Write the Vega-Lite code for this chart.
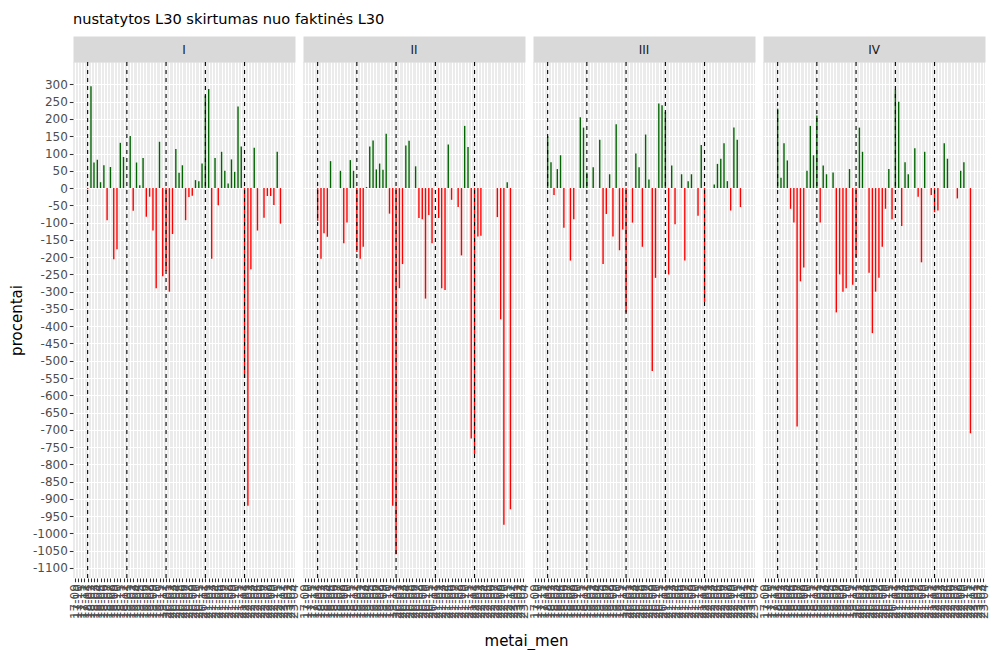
{
  "$schema": "https://vega.github.io/schema/vega-lite/v6.json",
  "padding": {"left": 9, "top": 12, "right": 0, "bottom": 2},
  "spacing": 8,
  "bounds": "flush",
  "title": {"text": "nustatytos L30 skirtumas nuo faktinės L30", "anchor": "start", "frame": "group", "font": "DejaVu Sans", "fontSize": 14.6, "fontWeight": "normal", "color": "black", "offset": 17},
  "datasets": {
    "metai": [{"metai_men": "2018-01-01"}, {"metai_men": "2019-01-01"}, {"metai_men": "2020-01-01"}, {"metai_men": "2021-01-01"}, {"metai_men": "2022-01-01"}],
    "d": [
      {"ketvirtis": "I", "metai_men": "2018-01-01", "procentai": -3},
      {"ketvirtis": "I", "metai_men": "2018-02-01", "procentai": 295},
      {"ketvirtis": "I", "metai_men": "2018-03-01", "procentai": 74},
      {"ketvirtis": "I", "metai_men": "2018-04-01", "procentai": 82},
      {"ketvirtis": "I", "metai_men": "2018-05-01", "procentai": 17},
      {"ketvirtis": "I", "metai_men": "2018-06-01", "procentai": 66},
      {"ketvirtis": "I", "metai_men": "2018-07-01", "procentai": -93},
      {"ketvirtis": "I", "metai_men": "2018-08-01", "procentai": 61},
      {"ketvirtis": "I", "metai_men": "2018-09-01", "procentai": -206},
      {"ketvirtis": "I", "metai_men": "2018-10-01", "procentai": -177},
      {"ketvirtis": "I", "metai_men": "2018-11-01", "procentai": 131},
      {"ketvirtis": "I", "metai_men": "2018-12-01", "procentai": 90},
      {"ketvirtis": "I", "metai_men": "2019-02-01", "procentai": 151},
      {"ketvirtis": "I", "metai_men": "2019-03-01", "procentai": -66},
      {"ketvirtis": "I", "metai_men": "2019-04-01", "procentai": 74},
      {"ketvirtis": "I", "metai_men": "2019-05-01", "procentai": 8},
      {"ketvirtis": "I", "metai_men": "2019-06-01", "procentai": 87},
      {"ketvirtis": "I", "metai_men": "2019-07-01", "procentai": -83},
      {"ketvirtis": "I", "metai_men": "2019-08-01", "procentai": -25},
      {"ketvirtis": "I", "metai_men": "2019-09-01", "procentai": -123},
      {"ketvirtis": "I", "metai_men": "2019-10-01", "procentai": -290},
      {"ketvirtis": "I", "metai_men": "2019-11-01", "procentai": 134},
      {"ketvirtis": "I", "metai_men": "2019-12-01", "procentai": -255},
      {"ketvirtis": "I", "metai_men": "2020-01-01", "procentai": -240},
      {"ketvirtis": "I", "metai_men": "2020-02-01", "procentai": -300},
      {"ketvirtis": "I", "metai_men": "2020-03-01", "procentai": -133},
      {"ketvirtis": "I", "metai_men": "2020-04-01", "procentai": 113},
      {"ketvirtis": "I", "metai_men": "2020-05-01", "procentai": 44},
      {"ketvirtis": "I", "metai_men": "2020-06-01", "procentai": 66},
      {"ketvirtis": "I", "metai_men": "2020-07-01", "procentai": -93},
      {"ketvirtis": "I", "metai_men": "2020-08-01", "procentai": -26},
      {"ketvirtis": "I", "metai_men": "2020-09-01", "procentai": -22},
      {"ketvirtis": "I", "metai_men": "2020-10-01", "procentai": 23},
      {"ketvirtis": "I", "metai_men": "2020-11-01", "procentai": 20},
      {"ketvirtis": "I", "metai_men": "2020-12-01", "procentai": 71},
      {"ketvirtis": "I", "metai_men": "2021-01-01", "procentai": 268},
      {"ketvirtis": "I", "metai_men": "2021-02-01", "procentai": 287},
      {"ketvirtis": "I", "metai_men": "2021-03-01", "procentai": -205},
      {"ketvirtis": "I", "metai_men": "2021-04-01", "procentai": 87},
      {"ketvirtis": "I", "metai_men": "2021-05-01", "procentai": -50},
      {"ketvirtis": "I", "metai_men": "2021-06-01", "procentai": 105},
      {"ketvirtis": "I", "metai_men": "2021-07-01", "procentai": 50},
      {"ketvirtis": "I", "metai_men": "2021-08-01", "procentai": 13},
      {"ketvirtis": "I", "metai_men": "2021-09-01", "procentai": 83},
      {"ketvirtis": "I", "metai_men": "2021-10-01", "procentai": 47},
      {"ketvirtis": "I", "metai_men": "2021-11-01", "procentai": 236},
      {"ketvirtis": "I", "metai_men": "2021-12-01", "procentai": 120},
      {"ketvirtis": "I", "metai_men": "2022-01-01", "procentai": -550},
      {"ketvirtis": "I", "metai_men": "2022-02-01", "procentai": -920},
      {"ketvirtis": "I", "metai_men": "2022-03-01", "procentai": -235},
      {"ketvirtis": "I", "metai_men": "2022-04-01", "procentai": 117},
      {"ketvirtis": "I", "metai_men": "2022-05-01", "procentai": -123},
      {"ketvirtis": "I", "metai_men": "2022-07-01", "procentai": -86},
      {"ketvirtis": "I", "metai_men": "2022-08-01", "procentai": -23},
      {"ketvirtis": "I", "metai_men": "2022-09-01", "procentai": -23},
      {"ketvirtis": "I", "metai_men": "2022-10-01", "procentai": -49},
      {"ketvirtis": "I", "metai_men": "2022-11-01", "procentai": 105},
      {"ketvirtis": "I", "metai_men": "2022-12-01", "procentai": -103},

      {"ketvirtis": "II", "metai_men": "2018-01-01", "procentai": -95},
      {"ketvirtis": "II", "metai_men": "2018-02-01", "procentai": -205},
      {"ketvirtis": "II", "metai_men": "2018-03-01", "procentai": -131},
      {"ketvirtis": "II", "metai_men": "2018-04-01", "procentai": -141},
      {"ketvirtis": "II", "metai_men": "2018-05-01", "procentai": 78},
      {"ketvirtis": "II", "metai_men": "2018-08-01", "procentai": 50},
      {"ketvirtis": "II", "metai_men": "2018-09-01", "procentai": -160},
      {"ketvirtis": "II", "metai_men": "2018-10-01", "procentai": -100},
      {"ketvirtis": "II", "metai_men": "2018-11-01", "procentai": 81},
      {"ketvirtis": "II", "metai_men": "2018-12-01", "procentai": 50},
      {"ketvirtis": "II", "metai_men": "2019-01-01", "procentai": -185},
      {"ketvirtis": "II", "metai_men": "2019-02-01", "procentai": -205},
      {"ketvirtis": "II", "metai_men": "2019-03-01", "procentai": -170},
      {"ketvirtis": "II", "metai_men": "2019-04-01", "procentai": 3},
      {"ketvirtis": "II", "metai_men": "2019-05-01", "procentai": 120},
      {"ketvirtis": "II", "metai_men": "2019-06-01", "procentai": 138},
      {"ketvirtis": "II", "metai_men": "2019-07-01", "procentai": 54},
      {"ketvirtis": "II", "metai_men": "2019-08-01", "procentai": 71},
      {"ketvirtis": "II", "metai_men": "2019-09-01", "procentai": 53},
      {"ketvirtis": "II", "metai_men": "2019-10-01", "procentai": 157},
      {"ketvirtis": "II", "metai_men": "2019-11-01", "procentai": -74},
      {"ketvirtis": "II", "metai_men": "2019-12-01", "procentai": -920},
      {"ketvirtis": "II", "metai_men": "2020-01-01", "procentai": -1060},
      {"ketvirtis": "II", "metai_men": "2020-02-01", "procentai": -290},
      {"ketvirtis": "II", "metai_men": "2020-03-01", "procentai": -220},
      {"ketvirtis": "II", "metai_men": "2020-04-01", "procentai": 123},
      {"ketvirtis": "II", "metai_men": "2020-05-01", "procentai": 137},
      {"ketvirtis": "II", "metai_men": "2020-07-01", "procentai": 63},
      {"ketvirtis": "II", "metai_men": "2020-08-01", "procentai": -87},
      {"ketvirtis": "II", "metai_men": "2020-09-01", "procentai": -90},
      {"ketvirtis": "II", "metai_men": "2020-10-01", "procentai": -320},
      {"ketvirtis": "II", "metai_men": "2020-11-01", "procentai": -78},
      {"ketvirtis": "II", "metai_men": "2020-12-01", "procentai": -160},
      {"ketvirtis": "II", "metai_men": "2021-02-01", "procentai": -87},
      {"ketvirtis": "II", "metai_men": "2021-03-01", "procentai": -290},
      {"ketvirtis": "II", "metai_men": "2021-04-01", "procentai": -295},
      {"ketvirtis": "II", "metai_men": "2021-05-01", "procentai": 126},
      {"ketvirtis": "II", "metai_men": "2021-06-01", "procentai": -34},
      {"ketvirtis": "II", "metai_men": "2021-08-01", "procentai": -55},
      {"ketvirtis": "II", "metai_men": "2021-09-01", "procentai": -195},
      {"ketvirtis": "II", "metai_men": "2021-10-01", "procentai": 180},
      {"ketvirtis": "II", "metai_men": "2021-11-01", "procentai": 119},
      {"ketvirtis": "II", "metai_men": "2021-12-01", "procentai": -725},
      {"ketvirtis": "II", "metai_men": "2022-01-01", "procentai": -770},
      {"ketvirtis": "II", "metai_men": "2022-02-01", "procentai": -140},
      {"ketvirtis": "II", "metai_men": "2022-03-01", "procentai": -138},
      {"ketvirtis": "II", "metai_men": "2022-08-01", "procentai": -84},
      {"ketvirtis": "II", "metai_men": "2022-09-01", "procentai": -380},
      {"ketvirtis": "II", "metai_men": "2022-10-01", "procentai": -975},
      {"ketvirtis": "II", "metai_men": "2022-11-01", "procentai": 17},
      {"ketvirtis": "II", "metai_men": "2022-12-01", "procentai": -930},

      {"ketvirtis": "III", "metai_men": "2018-01-01", "procentai": 150},
      {"ketvirtis": "III", "metai_men": "2018-02-01", "procentai": 75},
      {"ketvirtis": "III", "metai_men": "2018-03-01", "procentai": -20},
      {"ketvirtis": "III", "metai_men": "2018-04-01", "procentai": 55},
      {"ketvirtis": "III", "metai_men": "2018-05-01", "procentai": 95},
      {"ketvirtis": "III", "metai_men": "2018-06-01", "procentai": -115},
      {"ketvirtis": "III", "metai_men": "2018-08-01", "procentai": -210},
      {"ketvirtis": "III", "metai_men": "2018-09-01", "procentai": -90},
      {"ketvirtis": "III", "metai_men": "2018-11-01", "procentai": 205},
      {"ketvirtis": "III", "metai_men": "2018-12-01", "procentai": 175},
      {"ketvirtis": "III", "metai_men": "2019-01-01", "procentai": 45},
      {"ketvirtis": "III", "metai_men": "2019-03-01", "procentai": 60},
      {"ketvirtis": "III", "metai_men": "2019-05-01", "procentai": 140},
      {"ketvirtis": "III", "metai_men": "2019-06-01", "procentai": -220},
      {"ketvirtis": "III", "metai_men": "2019-07-01", "procentai": -75},
      {"ketvirtis": "III", "metai_men": "2019-08-01", "procentai": 40},
      {"ketvirtis": "III", "metai_men": "2019-09-01", "procentai": -140},
      {"ketvirtis": "III", "metai_men": "2019-10-01", "procentai": 185},
      {"ketvirtis": "III", "metai_men": "2019-11-01", "procentai": -180},
      {"ketvirtis": "III", "metai_men": "2019-12-01", "procentai": -120},
      {"ketvirtis": "III", "metai_men": "2020-01-01", "procentai": -360},
      {"ketvirtis": "III", "metai_men": "2020-03-01", "procentai": -100},
      {"ketvirtis": "III", "metai_men": "2020-04-01", "procentai": 100},
      {"ketvirtis": "III", "metai_men": "2020-05-01", "procentai": 60},
      {"ketvirtis": "III", "metai_men": "2020-06-01", "procentai": -170},
      {"ketvirtis": "III", "metai_men": "2020-07-01", "procentai": 155},
      {"ketvirtis": "III", "metai_men": "2020-08-01", "procentai": 25},
      {"ketvirtis": "III", "metai_men": "2020-09-01", "procentai": -530},
      {"ketvirtis": "III", "metai_men": "2020-10-01", "procentai": -260},
      {"ketvirtis": "III", "metai_men": "2020-11-01", "procentai": 245},
      {"ketvirtis": "III", "metai_men": "2020-12-01", "procentai": 240},
      {"ketvirtis": "III", "metai_men": "2021-01-01", "procentai": 220},
      {"ketvirtis": "III", "metai_men": "2021-02-01", "procentai": -250},
      {"ketvirtis": "III", "metai_men": "2021-03-01", "procentai": 65},
      {"ketvirtis": "III", "metai_men": "2021-04-01", "procentai": -105},
      {"ketvirtis": "III", "metai_men": "2021-06-01", "procentai": 40},
      {"ketvirtis": "III", "metai_men": "2021-07-01", "procentai": -210},
      {"ketvirtis": "III", "metai_men": "2021-08-01", "procentai": 20},
      {"ketvirtis": "III", "metai_men": "2021-09-01", "procentai": 40},
      {"ketvirtis": "III", "metai_men": "2021-11-01", "procentai": -80},
      {"ketvirtis": "III", "metai_men": "2021-12-01", "procentai": 125},
      {"ketvirtis": "III", "metai_men": "2022-01-01", "procentai": -330},
      {"ketvirtis": "III", "metai_men": "2022-04-01", "procentai": 10},
      {"ketvirtis": "III", "metai_men": "2022-05-01", "procentai": 70},
      {"ketvirtis": "III", "metai_men": "2022-06-01", "procentai": 85},
      {"ketvirtis": "III", "metai_men": "2022-07-01", "procentai": 130},
      {"ketvirtis": "III", "metai_men": "2022-08-01", "procentai": 20},
      {"ketvirtis": "III", "metai_men": "2022-09-01", "procentai": -65},
      {"ketvirtis": "III", "metai_men": "2022-10-01", "procentai": 175},
      {"ketvirtis": "III", "metai_men": "2022-11-01", "procentai": 140},
      {"ketvirtis": "III", "metai_men": "2022-12-01", "procentai": -55},

      {"ketvirtis": "IV", "metai_men": "2018-01-01", "procentai": 230},
      {"ketvirtis": "IV", "metai_men": "2018-02-01", "procentai": 30},
      {"ketvirtis": "IV", "metai_men": "2018-03-01", "procentai": 130},
      {"ketvirtis": "IV", "metai_men": "2018-04-01", "procentai": 80},
      {"ketvirtis": "IV", "metai_men": "2018-05-01", "procentai": -60},
      {"ketvirtis": "IV", "metai_men": "2018-06-01", "procentai": -100},
      {"ketvirtis": "IV", "metai_men": "2018-07-01", "procentai": -690},
      {"ketvirtis": "IV", "metai_men": "2018-08-01", "procentai": -270},
      {"ketvirtis": "IV", "metai_men": "2018-09-01", "procentai": -230},
      {"ketvirtis": "IV", "metai_men": "2018-10-01", "procentai": 50},
      {"ketvirtis": "IV", "metai_men": "2018-11-01", "procentai": 180},
      {"ketvirtis": "IV", "metai_men": "2018-12-01", "procentai": 95},
      {"ketvirtis": "IV", "metai_men": "2019-01-01", "procentai": 210},
      {"ketvirtis": "IV", "metai_men": "2019-02-01", "procentai": -100},
      {"ketvirtis": "IV", "metai_men": "2019-03-01", "procentai": 65},
      {"ketvirtis": "IV", "metai_men": "2019-04-01", "procentai": 40},
      {"ketvirtis": "IV", "metai_men": "2019-06-01", "procentai": 45},
      {"ketvirtis": "IV", "metai_men": "2019-07-01", "procentai": -360},
      {"ketvirtis": "IV", "metai_men": "2019-08-01", "procentai": -250},
      {"ketvirtis": "IV", "metai_men": "2019-09-01", "procentai": -300},
      {"ketvirtis": "IV", "metai_men": "2019-10-01", "procentai": -290},
      {"ketvirtis": "IV", "metai_men": "2019-11-01", "procentai": 55},
      {"ketvirtis": "IV", "metai_men": "2019-12-01", "procentai": -280},
      {"ketvirtis": "IV", "metai_men": "2020-01-01", "procentai": -200},
      {"ketvirtis": "IV", "metai_men": "2020-02-01", "procentai": 175},
      {"ketvirtis": "IV", "metai_men": "2020-03-01", "procentai": 105},
      {"ketvirtis": "IV", "metai_men": "2020-05-01", "procentai": -245},
      {"ketvirtis": "IV", "metai_men": "2020-06-01", "procentai": -420},
      {"ketvirtis": "IV", "metai_men": "2020-07-01", "procentai": -300},
      {"ketvirtis": "IV", "metai_men": "2020-08-01", "procentai": -260},
      {"ketvirtis": "IV", "metai_men": "2020-09-01", "procentai": -170},
      {"ketvirtis": "IV", "metai_men": "2020-10-01", "procentai": -60},
      {"ketvirtis": "IV", "metai_men": "2020-11-01", "procentai": 55},
      {"ketvirtis": "IV", "metai_men": "2020-12-01", "procentai": -90},
      {"ketvirtis": "IV", "metai_men": "2021-01-01", "procentai": 285},
      {"ketvirtis": "IV", "metai_men": "2021-02-01", "procentai": 250},
      {"ketvirtis": "IV", "metai_men": "2021-03-01", "procentai": -110},
      {"ketvirtis": "IV", "metai_men": "2021-04-01", "procentai": 75},
      {"ketvirtis": "IV", "metai_men": "2021-05-01", "procentai": 40},
      {"ketvirtis": "IV", "metai_men": "2021-07-01", "procentai": 115},
      {"ketvirtis": "IV", "metai_men": "2021-08-01", "procentai": -25},
      {"ketvirtis": "IV", "metai_men": "2021-09-01", "procentai": -215},
      {"ketvirtis": "IV", "metai_men": "2021-10-01", "procentai": 105},
      {"ketvirtis": "IV", "metai_men": "2021-12-01", "procentai": -20},
      {"ketvirtis": "IV", "metai_men": "2022-01-01", "procentai": -70},
      {"ketvirtis": "IV", "metai_men": "2022-02-01", "procentai": -65},
      {"ketvirtis": "IV", "metai_men": "2022-04-01", "procentai": 130},
      {"ketvirtis": "IV", "metai_men": "2022-05-01", "procentai": 85},
      {"ketvirtis": "IV", "metai_men": "2022-08-01", "procentai": -30},
      {"ketvirtis": "IV", "metai_men": "2022-09-01", "procentai": 50},
      {"ketvirtis": "IV", "metai_men": "2022-10-01", "procentai": 75},
      {"ketvirtis": "IV", "metai_men": "2022-12-01", "procentai": -710}
    ]
  },
  "hconcat": [
    {
      "width": 222, "height": 516,
      "title": {"text": "I", "fontSize": 12, "color": "#1A1A1A", "fontWeight": "normal", "anchor": "middle", "baseline": "middle", "offset": -13},
      "layer": [
        {
          "data": {"name": "d"}, "transform": [{"filter": "datum.ketvirtis == 'I'"}],
          "mark": {"type": "bar", "size": 1.4},
          "encoding": {
            "x": {"field": "metai_men", "type": "temporal", "scale": {"type": "utc", "nice": false, "domain": [{"year": 2017, "month": 10, "date": 3, "utc": true}, {"year": 2023, "month": 2, "date": 28, "utc": true}]}, "axis": {"orient": "bottom", "format": "%y-%m", "tickCount": {"interval": "month", "step": 1}, "labelAngle": 270, "labelOverlap": false, "labelBound": false, "labelFlush": false, "title": null}},
            "y": {"field": "procentai", "type": "quantitative", "scale": {"domain": [-1129, 365], "nice": false, "zero": false}, "axis": {"orient": "left", "values": [-1100, -1050, -1000, -950, -900, -850, -800, -750, -700, -650, -600, -550, -500, -450, -400, -350, -300, -250, -200, -150, -100, -50, 0, 50, 100, 150, 200, 250, 300], "labelExpr": "'' + datum.value", "title": "procentai"}},
            "color": {"condition": {"test": "datum.procentai > 0", "value": "#006400"}, "value": "#FF0000"}
          }
        },
        {
          "data": {"name": "d"}, "transform": [{"filter": "datum.ketvirtis == 'I'"}],
          "mark": {"type": "point", "opacity": 0},
          "encoding": {
            "x": {"field": "metai_men", "type": "temporal", "axis": {"orient": "top", "tickCount": {"interval": "day", "step": 15}, "labels": false, "ticks": false, "domain": true, "domainColor": "#D9D9D9", "domainWidth": 26, "domainCap": "butt", "offset": 13, "title": null, "gridWidth": 0.53}},
            "y": {"field": "procentai", "type": "quantitative", "axis": {"orient": "right", "values": [-1125, -1075, -1025, -975, -925, -875, -825, -775, -725, -675, -625, -575, -525, -475, -425, -375, -325, -275, -225, -175, -125, -75, -25, 25, 75, 125, 175, 225, 275, 325], "labels": false, "ticks": false, "domain": false, "title": null, "gridWidth": 0.53, "minExtent": 0, "maxExtent": 0}}
          }
        },
        {
          "data": {"name": "metai"},
          "mark": {"type": "rule", "color": "black", "strokeWidth": 1.1, "strokeDash": [4, 4]},
          "encoding": {"x": {"field": "metai_men", "type": "temporal", "axis": null}}
        }
      ]
    },
    {
      "width": 222, "height": 516,
      "title": {"text": "II", "fontSize": 12, "color": "#1A1A1A", "fontWeight": "normal", "anchor": "middle", "baseline": "middle", "offset": -13},
      "layer": [
        {
          "data": {"name": "d"}, "transform": [{"filter": "datum.ketvirtis == 'II'"}],
          "mark": {"type": "bar", "size": 1.4},
          "encoding": {
            "x": {"field": "metai_men", "type": "temporal", "scale": {"type": "utc", "nice": false, "domain": [{"year": 2017, "month": 10, "date": 3, "utc": true}, {"year": 2023, "month": 2, "date": 28, "utc": true}]}, "axis": {"orient": "bottom", "format": "%y-%m", "tickCount": {"interval": "month", "step": 1}, "labelAngle": 270, "labelOverlap": false, "labelBound": false, "labelFlush": false, "title": "metai_men", "titleX": 223, "titleAlign": "center", "titlePadding": 15}},
            "y": {"field": "procentai", "type": "quantitative", "scale": {"domain": [-1129, 365], "nice": false, "zero": false}, "axis": {"orient": "left", "values": [-1100, -1050, -1000, -950, -900, -850, -800, -750, -700, -650, -600, -550, -500, -450, -400, -350, -300, -250, -200, -150, -100, -50, 0, 50, 100, 150, 200, 250, 300], "labels": false, "ticks": false, "title": null, "minExtent": 0, "maxExtent": 0}},
            "color": {"condition": {"test": "datum.procentai > 0", "value": "#006400"}, "value": "#FF0000"}
          }
        },
        {
          "data": {"name": "d"}, "transform": [{"filter": "datum.ketvirtis == 'II'"}],
          "mark": {"type": "point", "opacity": 0},
          "encoding": {
            "x": {"field": "metai_men", "type": "temporal", "axis": {"orient": "top", "tickCount": {"interval": "day", "step": 15}, "labels": false, "ticks": false, "domain": true, "domainColor": "#D9D9D9", "domainWidth": 26, "domainCap": "butt", "offset": 13, "title": null, "gridWidth": 0.53}},
            "y": {"field": "procentai", "type": "quantitative", "axis": {"orient": "right", "values": [-1125, -1075, -1025, -975, -925, -875, -825, -775, -725, -675, -625, -575, -525, -475, -425, -375, -325, -275, -225, -175, -125, -75, -25, 25, 75, 125, 175, 225, 275, 325], "labels": false, "ticks": false, "domain": false, "title": null, "gridWidth": 0.53, "minExtent": 0, "maxExtent": 0}}
          }
        },
        {
          "data": {"name": "metai"},
          "mark": {"type": "rule", "color": "black", "strokeWidth": 1.1, "strokeDash": [4, 4]},
          "encoding": {"x": {"field": "metai_men", "type": "temporal", "axis": null}}
        }
      ]
    },
    {
      "width": 222, "height": 516,
      "title": {"text": "III", "fontSize": 12, "color": "#1A1A1A", "fontWeight": "normal", "anchor": "middle", "baseline": "middle", "offset": -13},
      "layer": [
        {
          "data": {"name": "d"}, "transform": [{"filter": "datum.ketvirtis == 'III'"}],
          "mark": {"type": "bar", "size": 1.4},
          "encoding": {
            "x": {"field": "metai_men", "type": "temporal", "scale": {"type": "utc", "nice": false, "domain": [{"year": 2017, "month": 10, "date": 3, "utc": true}, {"year": 2023, "month": 2, "date": 28, "utc": true}]}, "axis": {"orient": "bottom", "format": "%y-%m", "tickCount": {"interval": "month", "step": 1}, "labelAngle": 270, "labelOverlap": false, "labelBound": false, "labelFlush": false, "title": null}},
            "y": {"field": "procentai", "type": "quantitative", "scale": {"domain": [-1129, 365], "nice": false, "zero": false}, "axis": {"orient": "left", "values": [-1100, -1050, -1000, -950, -900, -850, -800, -750, -700, -650, -600, -550, -500, -450, -400, -350, -300, -250, -200, -150, -100, -50, 0, 50, 100, 150, 200, 250, 300], "labels": false, "ticks": false, "title": null, "minExtent": 0, "maxExtent": 0}},
            "color": {"condition": {"test": "datum.procentai > 0", "value": "#006400"}, "value": "#FF0000"}
          }
        },
        {
          "data": {"name": "d"}, "transform": [{"filter": "datum.ketvirtis == 'III'"}],
          "mark": {"type": "point", "opacity": 0},
          "encoding": {
            "x": {"field": "metai_men", "type": "temporal", "axis": {"orient": "top", "tickCount": {"interval": "day", "step": 15}, "labels": false, "ticks": false, "domain": true, "domainColor": "#D9D9D9", "domainWidth": 26, "domainCap": "butt", "offset": 13, "title": null, "gridWidth": 0.53}},
            "y": {"field": "procentai", "type": "quantitative", "axis": {"orient": "right", "values": [-1125, -1075, -1025, -975, -925, -875, -825, -775, -725, -675, -625, -575, -525, -475, -425, -375, -325, -275, -225, -175, -125, -75, -25, 25, 75, 125, 175, 225, 275, 325], "labels": false, "ticks": false, "domain": false, "title": null, "gridWidth": 0.53, "minExtent": 0, "maxExtent": 0}}
          }
        },
        {
          "data": {"name": "metai"},
          "mark": {"type": "rule", "color": "black", "strokeWidth": 1.1, "strokeDash": [4, 4]},
          "encoding": {"x": {"field": "metai_men", "type": "temporal", "axis": null}}
        }
      ]
    },
    {
      "width": 222, "height": 516,
      "title": {"text": "IV", "fontSize": 12, "color": "#1A1A1A", "fontWeight": "normal", "anchor": "middle", "baseline": "middle", "offset": -13},
      "layer": [
        {
          "data": {"name": "d"}, "transform": [{"filter": "datum.ketvirtis == 'IV'"}],
          "mark": {"type": "bar", "size": 1.4},
          "encoding": {
            "x": {"field": "metai_men", "type": "temporal", "scale": {"type": "utc", "nice": false, "domain": [{"year": 2017, "month": 10, "date": 3, "utc": true}, {"year": 2023, "month": 2, "date": 28, "utc": true}]}, "axis": {"orient": "bottom", "format": "%y-%m", "tickCount": {"interval": "month", "step": 1}, "labelAngle": 270, "labelOverlap": false, "labelBound": false, "labelFlush": false, "title": null}},
            "y": {"field": "procentai", "type": "quantitative", "scale": {"domain": [-1129, 365], "nice": false, "zero": false}, "axis": {"orient": "left", "values": [-1100, -1050, -1000, -950, -900, -850, -800, -750, -700, -650, -600, -550, -500, -450, -400, -350, -300, -250, -200, -150, -100, -50, 0, 50, 100, 150, 200, 250, 300], "labels": false, "ticks": false, "title": null, "minExtent": 0, "maxExtent": 0}},
            "color": {"condition": {"test": "datum.procentai > 0", "value": "#006400"}, "value": "#FF0000"}
          }
        },
        {
          "data": {"name": "d"}, "transform": [{"filter": "datum.ketvirtis == 'IV'"}],
          "mark": {"type": "point", "opacity": 0},
          "encoding": {
            "x": {"field": "metai_men", "type": "temporal", "axis": {"orient": "top", "tickCount": {"interval": "day", "step": 15}, "labels": false, "ticks": false, "domain": true, "domainColor": "#D9D9D9", "domainWidth": 26, "domainCap": "butt", "offset": 13, "title": null, "gridWidth": 0.53}},
            "y": {"field": "procentai", "type": "quantitative", "axis": {"orient": "right", "values": [-1125, -1075, -1025, -975, -925, -875, -825, -775, -725, -675, -625, -575, -525, -475, -425, -375, -325, -275, -225, -175, -125, -75, -25, 25, 75, 125, 175, 225, 275, 325], "labels": false, "ticks": false, "domain": false, "title": null, "gridWidth": 0.53, "minExtent": 0, "maxExtent": 0}}
          }
        },
        {
          "data": {"name": "metai"},
          "mark": {"type": "rule", "color": "black", "strokeWidth": 1.1, "strokeDash": [4, 4]},
          "encoding": {"x": {"field": "metai_men", "type": "temporal", "axis": null}}
        }
      ]
    }
  ],
  "config": {
    "font": "DejaVu Sans",
    "view": {"stroke": null, "fill": "#EBEBEB"},
    "axis": {"grid": true, "gridColor": "white", "gridWidth": 1.07, "domain": false, "tickColor": "#333333", "tickSize": 3.7, "tickWidth": 1.07, "labelColor": "#4D4D4D", "labelFontSize": 12, "labelFont": "DejaVu Sans", "labelPadding": 2, "titleFont": "DejaVu Sans", "titleFontSize": 15, "titleFontWeight": "normal", "titleColor": "black", "titlePadding": 8}
  }
}
